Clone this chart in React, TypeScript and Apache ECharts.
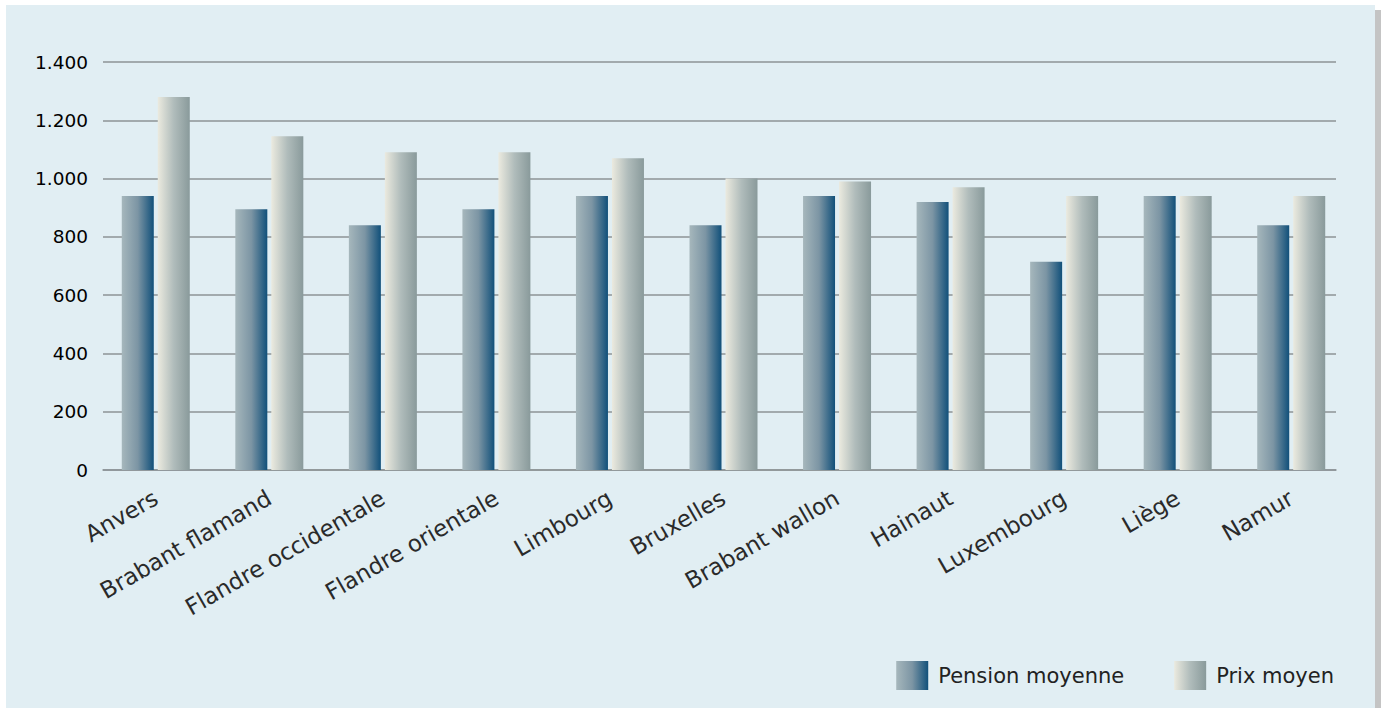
import React, { useEffect, useRef } from "react";
import * as echarts from "echarts";

const categories = [
  "Anvers",
  "Brabant flamand",
  "Flandre occidentale",
  "Flandre orientale",
  "Limbourg",
  "Bruxelles",
  "Brabant wallon",
  "Hainaut",
  "Luxembourg",
  "Liège",
  "Namur",
];
const pensionMoyenne = [940, 895, 840, 895, 940, 840, 940, 920, 715, 940, 840];
const prixMoyen = [1280, 1145, 1090, 1090, 1070, 1000, 990, 970, 940, 940, 940];
const seriesNames = ["Pension moyenne", "Prix moyen"];

const pensionGradient = new echarts.graphic.LinearGradient(0, 0, 1, 0, [
  { offset: 0, color: "#a6b7bc" },
  { offset: 0.5, color: "#7c95a4" },
  { offset: 1, color: "#11507a" },
]);
const prixGradient = new echarts.graphic.LinearGradient(0, 0, 1, 0, [
  { offset: 0, color: "#ebeadf" },
  { offset: 0.5, color: "#b0bcbb" },
  { offset: 1, color: "#899a9b" },
]);

const FONT = "DejaVu Sans";

export default function App() {
  const ref = useRef<HTMLDivElement>(null);
  useEffect(() => {
    if (!ref.current) return;
    const chart = echarts.init(ref.current, null, { renderer: "svg" });
    const fmt = (v: number) => String(v).replace(/\B(?=(\d{3})+(?!\d))/g, ".");
    const gridLine = { lineStyle: { color: "#8c9396", width: 1.5 } };
    chart.setOption({
      animation: false,
      graphic: [
        {
          type: "rect",
          z: -10,
          silent: true,
          shape: { x: 6, y: 5, width: 1369, height: 710 },
          style: { fill: "#e1eef3" },
        },
        {
          type: "rect",
          z: -10,
          silent: true,
          shape: { x: 1375, y: 10, width: 6, height: 705 },
          style: { fill: "#c4c4c4" },
        },
      ],
      grid: [
        { left: 103, right: 45, top: 62, bottom: 238, containLabel: false },
        { left: 99, right: 33, top: 62, bottom: 238, containLabel: false },
      ],
      legend: {
        right: 42,
        top: 656,
        itemWidth: 32,
        itemHeight: 29,
        itemGap: 50,
        icon: "rect",
        textStyle: {
          fontFamily: FONT,
          fontSize: 21,
          color: "#222",
          padding: [8, 0, 0, 5],
        },
        data: seriesNames,
      },
      xAxis: [
        {
          type: "category",
          gridIndex: 0,
          data: categories,
          axisLine: gridLine,
          axisTick: { show: false },
          axisLabel: { show: false },
        },
        {
          type: "category",
          gridIndex: 1,
          data: categories,
          axisLine: { show: false },
          axisTick: { show: false },
          axisLabel: {
            interval: 0,
            rotate: 30,
            margin: 26,
            fontFamily: FONT,
            fontSize: 23,
            color: "#2a2a2a",
          },
        },
      ],
      yAxis: [
        {
          type: "value",
          gridIndex: 0,
          min: 0,
          max: 1400,
          interval: 200,
          axisLine: { show: false },
          axisTick: { show: false },
          splitLine: gridLine,
          axisLabel: {
            margin: 15,
            fontFamily: FONT,
            fontWeight: 500,
            fontSize: 18.5,
            color: "#000",
            formatter: fmt,
          },
        },
        {
          type: "value",
          gridIndex: 1,
          min: 0,
          max: 1400,
          interval: 200,
          axisLine: { show: false },
          axisTick: { show: false },
          splitLine: { show: false },
          axisLabel: { show: false },
        },
      ],
      series: [
        {
          name: seriesNames[0],
          type: "bar",
          xAxisIndex: 1,
          yAxisIndex: 1,
          data: pensionMoyenne,
          barWidth: 32,
          barGap: "12.5%",
          itemStyle: { color: pensionGradient },
        },
        {
          name: seriesNames[1],
          type: "bar",
          xAxisIndex: 1,
          yAxisIndex: 1,
          data: prixMoyen,
          barWidth: 32,
          itemStyle: { color: prixGradient },
        },
      ],
    });
    return () => chart.dispose();
  }, []);
  return (
    <div
      ref={ref}
      style={{ position: "fixed", left: 0, top: 0, width: 1381, height: 708, background: "#fff" }}
    />
  );
}
